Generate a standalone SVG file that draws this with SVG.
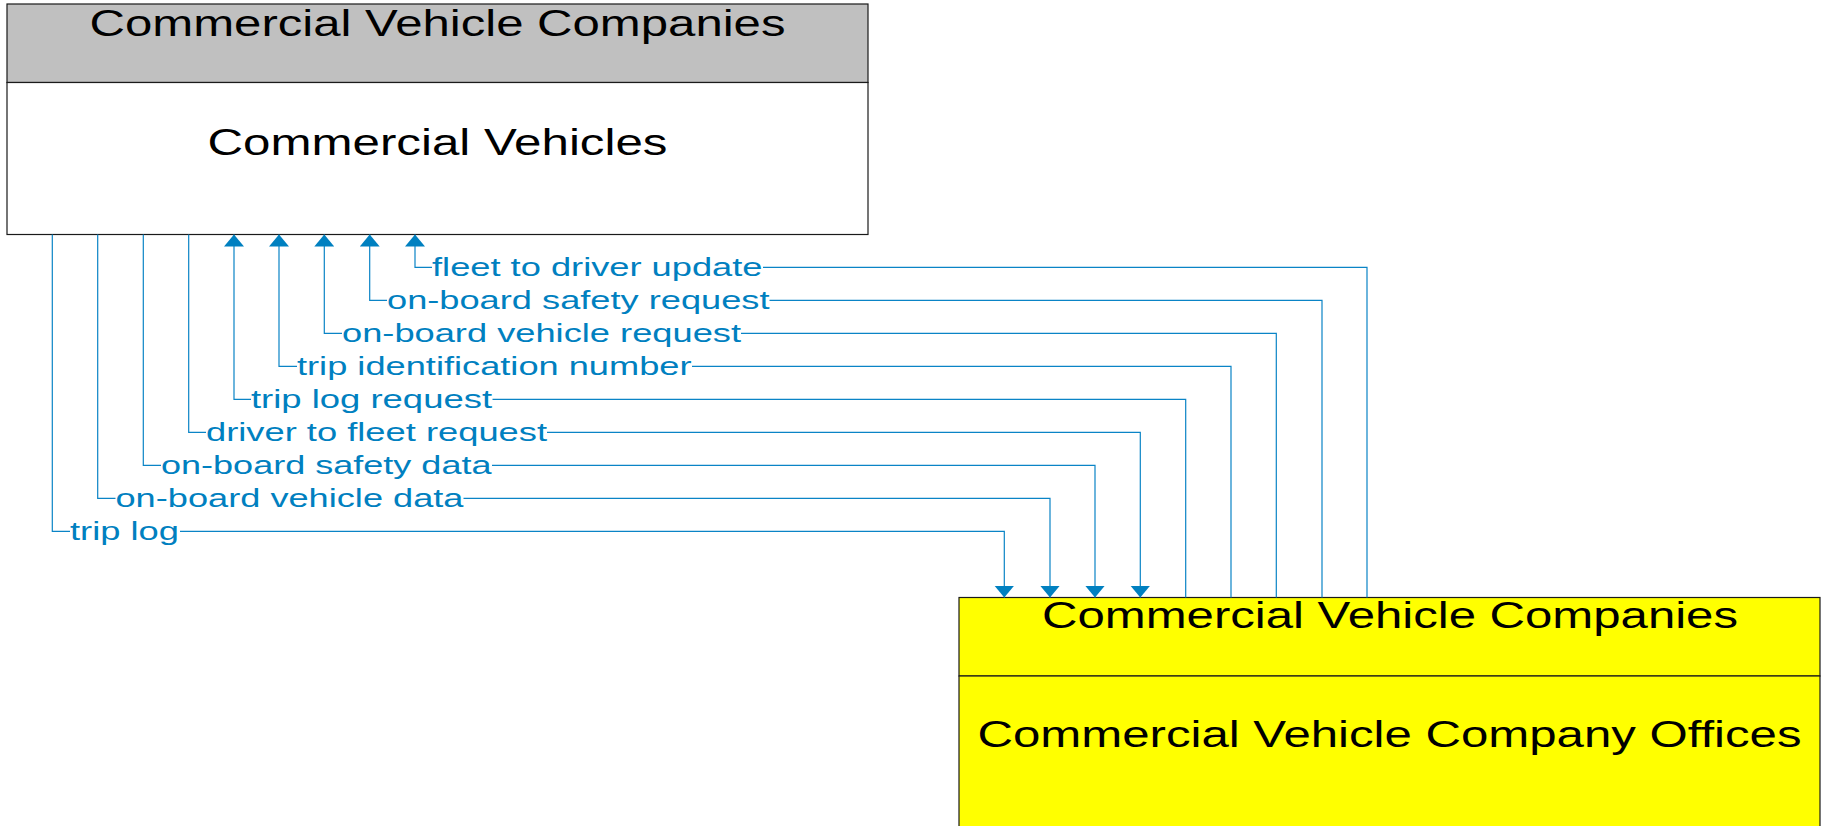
<svg xmlns="http://www.w3.org/2000/svg" width="1822" height="826" viewBox="0 0 1822 826">
<style>
.box{stroke:#1a1a1a;stroke-width:1.2}
.ntext{font-family:"Liberation Sans",Arial,sans-serif;font-size:36px;fill:#000;text-anchor:middle}
.conn{fill:none;stroke:#0a84c6;stroke-width:1.2}
.lbl{font-family:"Liberation Sans",Arial,sans-serif;font-size:26px;fill:#0080c0}
.bg{fill:#fff}
</style>
<defs>
<marker id="arr" markerUnits="userSpaceOnUse" viewBox="0 0 12 20" refX="12" refY="10" markerWidth="12" markerHeight="20" orient="auto">
<path d="M0,0 L12,10 L0,20 z" fill="#0080c0"/>
</marker>
</defs>
<rect width="1822" height="826" fill="#fff"/>
<g id="node-commercial-vehicles">
<rect class="box" x="7" y="4" width="861" height="78.5" fill="#c0c0c0"/>
<rect class="box" x="7" y="82.5" width="861" height="152" fill="#fff"/>
<text class="ntext" x="437.5" y="36" textLength="696" lengthAdjust="spacingAndGlyphs">Commercial Vehicle Companies</text>
<text class="ntext" x="437.5" y="155" textLength="460" lengthAdjust="spacingAndGlyphs">Commercial Vehicles</text>
</g>
<g id="node-cv-company-offices">
<rect class="box" x="959" y="597.5" width="861" height="78.5" fill="#ffff00"/>
<rect class="box" x="959" y="676" width="861" height="160" fill="#ffff00"/>
<text class="ntext" x="1390" y="628.3" textLength="696" lengthAdjust="spacingAndGlyphs">Commercial Vehicle Companies</text>
<text class="ntext" x="1389.5" y="746.7" textLength="824" lengthAdjust="spacingAndGlyphs">Commercial Vehicle Company Offices</text>
</g>
<g id="connectors">
<path class="conn" marker-end="url(#arr)" d="M52.3,234.5 V531.3 H1004.3 V597.5"/>
<path class="conn" marker-end="url(#arr)" d="M97.7,234.5 V498.3 H1050 V597.5"/>
<path class="conn" marker-end="url(#arr)" d="M143.3,234.5 V465.3 H1095 V597.5"/>
<path class="conn" marker-end="url(#arr)" d="M188.7,234.5 V432.3 H1140.3 V597.5"/>
<path class="conn" marker-end="url(#arr)" d="M1185.7,597.5 V399.3 H234 V234.5"/>
<path class="conn" marker-end="url(#arr)" d="M1231,597.5 V366.3 H279 V234.5"/>
<path class="conn" marker-end="url(#arr)" d="M1276.3,597.5 V333.3 H324.3 V234.5"/>
<path class="conn" marker-end="url(#arr)" d="M1322,597.5 V300.3 H369.7 V234.5"/>
<path class="conn" marker-end="url(#arr)" d="M1367,597.5 V267.3 H415 V234.5"/>
<rect class="bg" x="70" y="519" width="110" height="26"/>
<text class="lbl" x="70" y="540" textLength="109" lengthAdjust="spacingAndGlyphs">trip log</text>
<rect class="bg" x="115.5" y="486" width="348" height="26"/>
<text class="lbl" x="115.5" y="507" textLength="348" lengthAdjust="spacingAndGlyphs">on-board vehicle data</text>
<rect class="bg" x="161" y="453" width="331" height="26"/>
<text class="lbl" x="161" y="474" textLength="330.5" lengthAdjust="spacingAndGlyphs">on-board safety data</text>
<rect class="bg" x="206" y="420" width="341" height="26"/>
<text class="lbl" x="206" y="441" textLength="341" lengthAdjust="spacingAndGlyphs">driver to fleet request</text>
<rect class="bg" x="251" y="387" width="241.5" height="26"/>
<text class="lbl" x="251" y="408" textLength="241" lengthAdjust="spacingAndGlyphs">trip log request</text>
<rect class="bg" x="297" y="354" width="395" height="26"/>
<text class="lbl" x="297" y="375" textLength="394.5" lengthAdjust="spacingAndGlyphs">trip identification number</text>
<rect class="bg" x="342" y="321" width="399" height="26"/>
<text class="lbl" x="342" y="342" textLength="399" lengthAdjust="spacingAndGlyphs">on-board vehicle request</text>
<rect class="bg" x="387" y="288" width="382.5" height="26"/>
<text class="lbl" x="387" y="309" textLength="382.5" lengthAdjust="spacingAndGlyphs">on-board safety request</text>
<rect class="bg" x="432" y="255" width="331" height="26"/>
<text class="lbl" x="432" y="276" textLength="330.5" lengthAdjust="spacingAndGlyphs">fleet to driver update</text>
</g>
</svg>
